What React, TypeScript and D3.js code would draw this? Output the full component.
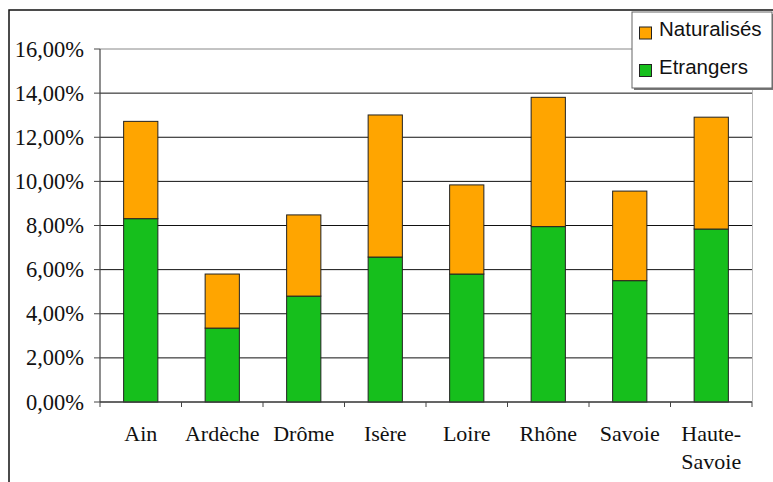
import React from "react";
import * as d3 from "d3";

const categories = ["Ain", "Ardèche", "Drôme", "Isère", "Loire", "Rhône", "Savoie", "Haute-Savoie"];
const categoryLines = [["Ain"], ["Ardèche"], ["Drôme"], ["Isère"], ["Loire"], ["Rhône"], ["Savoie"], ["Haute-", "Savoie"]];
const etrangers = [8.31, 3.35, 4.8, 6.57, 5.8, 7.95, 5.5, 7.84];
const naturalises = [4.41, 2.45, 3.68, 6.44, 4.04, 5.86, 4.06, 5.07];
const yTicks = [0, 2, 4, 6, 8, 10, 12, 14, 16];
const seriesNames = ["Naturalisés", "Etrangers"];
const seriesColors = ["#FFA500", "#16BF1C"];

const W = 773;
const H = 482;
const plot = { left: 100, right: 752, top: 49, bottom: 402 };

const fr = d3.formatLocale({ decimal: ",", thousands: " ", grouping: [3], currency: ["", " €"] });
const fmt = (v: number) => fr.format(".2f")(v) + "%";

export default function App() {
  const x = d3.scaleBand<string>().domain(categories).range([plot.left, plot.right]).paddingInner(0.58).paddingOuter(0.29);
  const y = d3.scaleLinear().domain([0, 16]).range([plot.bottom, plot.top]);
  const step = x.step();
  const serifStyle = { fontFamily: '"Liberation Serif", "DejaVu Serif", "Times New Roman", Times, serif' };
  const sansStyle = { fontFamily: '"Liberation Sans", Arial, sans-serif' };

  return (
    <svg width={W} height={H} style={{ position: "absolute", left: 0, top: 0, background: "#fff" }}>
      {/* outer frame */}
      <rect x={9} y={10} width={W + 20} height={H + 20} fill="#fff" stroke="#111" strokeWidth={1.5} />

      {/* gridlines */}
      {yTicks.map((t) => (
        <line key={"g" + t} x1={plot.left} x2={plot.right} y1={y(t)} y2={y(t)}
          stroke={t === 16 ? "#888" : "#111"} strokeWidth={1} />
      ))}
      {/* plot right border */}
      <line x1={plot.right + 0.5} x2={plot.right + 0.5} y1={plot.top} y2={plot.bottom} stroke="#bbb" strokeWidth={1} />

      {/* bars */}
      {categories.map((c, i) => {
        const bx = x(c) as number;
        const bw = x.bandwidth();
        const e = etrangers[i];
        const n = naturalises[i];
        return (
          <g key={c}>
            <rect x={bx} y={y(e)} width={bw} height={y(0) - y(e)} fill={seriesColors[1]} stroke="#222" strokeWidth={1} />
            <rect x={bx} y={y(e + n)} width={bw} height={y(e) - y(e + n)} fill={seriesColors[0]} stroke="#222" strokeWidth={1} />
          </g>
        );
      })}

      {/* y axis */}
      <line x1={plot.left} x2={plot.left} y1={plot.top} y2={plot.bottom} stroke="#444" strokeWidth={1.2} />
      {yTicks.map((t) => (
        <g key={"t" + t}>
          <line x1={plot.left - 6} x2={plot.left} y1={y(t)} y2={y(t)} stroke="#444" strokeWidth={1} />
          <text x={84} y={y(t) + 7.5} textAnchor="end" style={serifStyle} fontSize={22.5} fill="#111">
            {fmt(t)}
          </text>
        </g>
      ))}

      {/* x axis */}
      <line x1={plot.left} x2={plot.right} y1={plot.bottom} y2={plot.bottom} stroke="#444" strokeWidth={1.2} />
      {d3.range(categories.length + 1).map((k) => (
        <line key={"xt" + k} x1={plot.left + k * step} x2={plot.left + k * step} y1={plot.bottom} y2={plot.bottom + 5} stroke="#444" strokeWidth={1} />
      ))}
      {categories.map((c, i) => (
        <text key={"l" + c} x={(x(c) as number) + x.bandwidth() / 2} y={441} textAnchor="middle" style={serifStyle} fontSize={22} fill="#111">
          {categoryLines[i].map((ln, j) => (
            <tspan key={j} x={(x(c) as number) + x.bandwidth() / 2} dy={j === 0 ? 0 : 28}>{ln}</tspan>
          ))}
        </text>
      ))}

      {/* legend */}
      <rect x={634} y={14} width={140} height={76} fill="#777" />
      <rect x={632} y={12} width={140} height={76} fill="#fff" stroke="#666" strokeWidth={1} />
      {seriesNames.map((s, i) => (
        <g key={s}>
          <rect x={639.5} y={27 + i * 37.5} width={12} height={12} fill={seriesColors[i]} stroke="#222" strokeWidth={1} />
          <text x={659} y={36 + i * 38} style={sansStyle} fontSize={20.5} fill="#111">{s}</text>
        </g>
      ))}
    </svg>
  );
}
